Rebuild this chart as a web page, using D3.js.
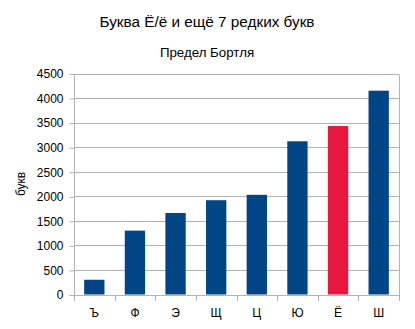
<!DOCTYPE html>
<html><head><meta charset="utf-8">
<script src="https://cdn.jsdelivr.net/npm/d3@7"></script>
<style>body{margin:0;background:#fff}svg{display:block;font-family:"Liberation Sans",Arial,sans-serif}</style>
</head><body>
<script>
const categories = ["Ъ","Ф","Э","Щ","Ц","Ю","Ё","Ш"];
const values = [300, 1300, 1660, 1920, 2030, 3120, 3430, 4150];
const highlight = ["Ё"];
const yTicks = [0,500,1000,1500,2000,2500,3000,3500,4000,4500];
const title = "Буква Ё/ё и ещё 7 редких букв";
const subtitle = "Предел Бортля";
const yLabel = "букв";

const W = 415, H = 329;
const m = {left: 74, right: 16, top: 73.5, bottom: 34};
const svg = d3.select("body").append("svg").attr("width", W).attr("height", H);

const x = d3.scaleBand().domain(categories).range([m.left, W - m.right]).paddingInner(0.5).paddingOuter(0.25);
const y = d3.scaleLinear().domain([0, 4500]).range([H - m.bottom - 0.5, m.top]);

const grid = "#b3b3b3";
svg.append("g").selectAll("line").data(yTicks).join("line")
  .attr("x1", m.left).attr("x2", W - m.right)
  .attr("y1", d => Math.round(y(d)) + 0.5).attr("y2", d => Math.round(y(d)) + 0.5)
  .attr("stroke", grid);
svg.append("line").attr("x1", W - m.right + 0.5).attr("x2", W - m.right + 0.5)
  .attr("y1", Math.round(y(4500)) + 0.5).attr("y2", Math.round(y(0)) + 0.5).attr("stroke", grid);

svg.append("g").selectAll("rect").data(categories).join("rect")
  .attr("x", d => x(d)).attr("width", x.bandwidth())
  .attr("y", (d, i) => y(values[i])).attr("height", (d, i) => y(0) - y(values[i]))
  .attr("fill", d => highlight.includes(d) ? "#e8173f" : "#004586");

const ya = d3.axisLeft(y).tickValues(yTicks).tickFormat(d3.format("d")).tickSize(5).tickPadding(6);
const gy = svg.append("g").attr("transform", `translate(${m.left + 0.5},0.5)`).call(ya);
gy.select(".domain").attr("stroke", grid).attr("d", `M0,${Math.round(y(4500))}V${Math.round(y(0))+5}`);
gy.selectAll(".tick line").attr("stroke", grid);
gy.selectAll(".tick text").attr("font-size", 12).attr("fill", "#000").attr("font-family", "Liberation Sans, Arial, sans-serif");

const bounds = d3.range(categories.length + 1).map(i => m.left + i * (W - m.right - m.left) / categories.length);
const gx = svg.append("g");
gx.append("line").attr("x1", m.left).attr("x2", W - m.right + 1)
  .attr("y1", Math.round(y(0)) + 0.5).attr("y2", Math.round(y(0)) + 0.5).attr("stroke", grid);
gx.selectAll("line.t").data(bounds).join("line").attr("class", "t")
  .attr("x1", d => Math.round(d) + 0.5).attr("x2", d => Math.round(d) + 0.5)
  .attr("y1", Math.round(y(0))).attr("y2", Math.round(y(0)) + 6).attr("stroke", grid);
gx.selectAll("text").data(categories).join("text")
  .attr("x", d => x(d) + x.bandwidth() / 2).attr("y", y(0) + 22)
  .attr("text-anchor", "middle").attr("font-size", 12).text(d => d);

svg.append("text").attr("x", 207).attr("y", 27).attr("text-anchor", "middle").attr("font-size", 15.3).text(title);
svg.append("text").attr("x", 207).attr("y", 57).attr("text-anchor", "middle").attr("font-size", 13.3).text(subtitle);
svg.append("text").attr("transform", `translate(25,${(y(0)+y(4500))/2}) rotate(-90)`)
  .attr("text-anchor", "middle").attr("font-size", 12).text(yLabel);
</script>
</body></html>
